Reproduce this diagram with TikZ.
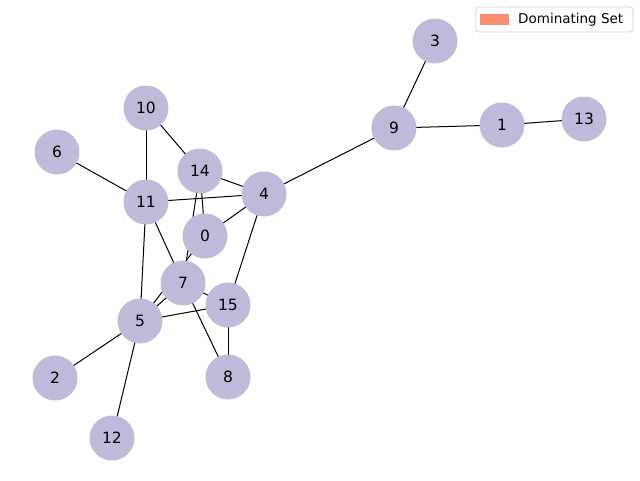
\documentclass[tikz,border=0pt]{standalone}
\usepackage{fontspec}
\setmainfont{DejaVu Sans}
\usetikzlibrary{backgrounds}
\definecolor{nodefill}{RGB}{190,186,218}
\definecolor{domset}{RGB}{252,141,114}
\definecolor{legendborder}{RGB}{204,204,204}
\begin{document}
\begin{tikzpicture}[x=1pt,y=-1pt,
  vtx/.style={circle,fill=nodefill,minimum size=45pt,inner sep=0pt,font=\fontsize{15.5}{15.5}\selectfont},
  edge/.style={draw=black,line width=1pt},
  legendbox/.style={draw=legendborder,rounded corners=3pt,fill=white,line width=0.8pt},
  patchbox/.style={fill=domset,draw=none}]
\useasboundingbox (0,0) rectangle (640,480);
\node[vtx] (n0) at (205,236) {0};
\node[vtx] (n1) at (502,125) {1};
\node[vtx] (n2) at (55,378) {2};
\node[vtx] (n3) at (435,41) {3};
\node[vtx] (n4) at (264,194) {4};
\node[vtx] (n5) at (140,321) {5};
\node[vtx] (n6) at (57,152) {6};
\node[vtx] (n7) at (183,283) {7};
\node[vtx] (n8) at (228,377) {8};
\node[vtx] (n9) at (394,128) {9};
\node[vtx] (n10) at (146,108) {10};
\node[vtx] (n11) at (146,202) {11};
\node[vtx] (n12) at (112,438) {12};
\node[vtx] (n13) at (584,119) {13};
\node[vtx] (n14) at (200,171) {14};
\node[vtx] (n15) at (228,305) {15};
\begin{scope}[on background layer]
\draw[edge] (n3.center) -- (n9.center);
\draw[edge] (n9.center) -- (n1.center);
\draw[edge] (n1.center) -- (n13.center);
\draw[edge] (n9.center) -- (n4.center);
\draw[edge] (n10.center) -- (n14.center);
\draw[edge] (n10.center) -- (n11.center);
\draw[edge] (n6.center) -- (n11.center);
\draw[edge] (n14.center) -- (n4.center);
\draw[edge] (n14.center) -- (n0.center);
\draw[edge] (n14.center) -- (n7.center);
\draw[edge] (n11.center) -- (n4.center);
\draw[edge] (n0.center) -- (n4.center);
\draw[edge] (n4.center) -- (n15.center);
\draw[edge] (n11.center) -- (n7.center);
\draw[edge] (n11.center) -- (n5.center);
\draw[edge] (n5.center) -- (n7.center);
\draw[edge] (n5.center) -- (n0.center);
\draw[edge] (n7.center) -- (n15.center);
\draw[edge] (n7.center) -- (n8.center);
\draw[edge] (n5.center) -- (n15.center);
\draw[edge] (n15.center) -- (n8.center);
\draw[edge] (n5.center) -- (n2.center);
\draw[edge] (n5.center) -- (n12.center);
\end{scope}
\node[legendbox,minimum width=157pt,minimum height=25pt,inner sep=0pt] (legend) at (554.5,19.5) {};
\node[patchbox,minimum width=29pt,minimum height=11pt,inner sep=0pt] (patch) at (494.5,19) {};
\node[anchor=west,inner sep=0pt,font=\fontsize{13.5}{13.5}\selectfont] (legtext) at (518,19.5) {Dominating Set};
\end{tikzpicture}
\end{document}
